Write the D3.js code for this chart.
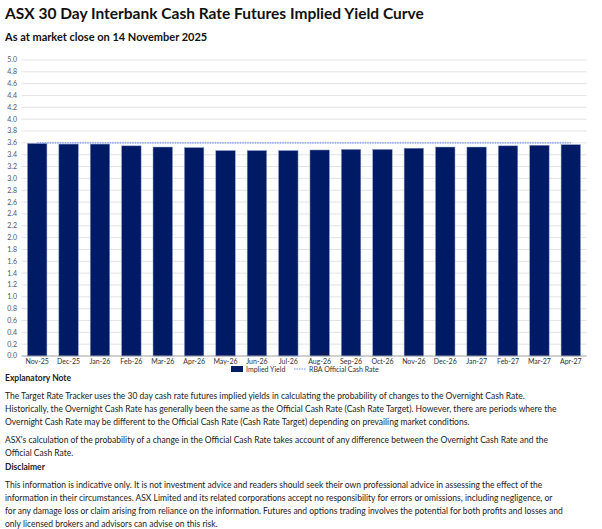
<!DOCTYPE html>
<html><head><meta charset="utf-8">
<script src="https://cdn.jsdelivr.net/npm/d3@7"></script>
<style>
body{margin:0;background:#fff;}
svg{display:block;}
</style></head>
<body>
<svg id="c" width="602" height="529"></svg>
<script>
const months = ["Nov-25","Dec-25","Jan-26","Feb-26","Mar-26","Apr-26","May-26","Jun-26","Jul-26","Aug-26","Sep-26","Oct-26","Nov-26","Dec-26","Jan-27","Feb-27","Mar-27","Apr-27"];
const impliedYield = [3.59,3.58,3.58,3.55,3.53,3.52,3.47,3.47,3.47,3.48,3.49,3.49,3.51,3.53,3.53,3.55,3.56,3.57];
const rbaCashRate = [3.60,3.60,3.60,3.60,3.60,3.60,3.60,3.60,3.60,3.60,3.60,3.60,3.60,3.60,3.60,3.60,3.60,3.60];
const yTicks = d3.range(0, 5.01, 0.2).map(v => +v.toFixed(1));
const titleText = "ASX 30 Day Interbank Cash Rate Futures Implied Yield Curve";
const subtitleText = "As at market close on 14 November 2025";
const seriesNames = ["Implied Yield", "RBA Official Cash Rate"];
const noteHeading = "Explanatory Note";
const noteLines = [
 "The Target Rate Tracker uses the 30 day cash rate futures implied yields in calculating the probability of changes to the Overnight Cash Rate.",
 "Historically, the Overnight Cash Rate has generally been the same as the Official Cash Rate (Cash Rate Target). However, there are periods where the",
 "Overnight Cash Rate may be different to the Official Cash Rate (Cash Rate Target) depending on prevailing market conditions."
];
const noteLines2 = [
 "ASX's calculation of the probability of a change in the Official Cash Rate takes account of any difference between the Overnight Cash Rate and the",
 "Official Cash Rate."
];
const disclaimerHeading = "Disclaimer";
const disclaimerLines = [
 "This information is indicative only. It is not investment advice and readers should seek their own professional advice in assessing the effect of the",
 "information in their circumstances. ASX Limited and its related corporations accept no responsibility for errors or omissions, including negligence, or",
 "for any damage loss or claim arising from reliance on the information. Futures and options trading involves the potential for both profits and losses and",
 "only licensed brokers and advisors can advise on this risk."
];

const svg = d3.select("#c");
const FONT = "Lato, 'Open Sans', sans-serif";
const navy = "#001a66";

svg.append("text").attr("x",5).attr("y",19).attr("font-family",FONT).attr("font-weight","bold")
  .attr("font-size",15.5).attr("fill","#111").text(titleText);
svg.append("text").attr("x",5).attr("y",41).attr("font-family",FONT).attr("font-weight","bold")
  .attr("font-size",11).attr("fill","#111").text(subtitleText);

const pLeft = 21.5, pRight = 586.5, pTop = 60, pBottom = 356;
const x = d3.scaleBand().domain(months).range([pLeft, pRight]).paddingInner(0.38).paddingOuter(0.19);
const y = d3.scaleLinear().domain([0,5]).range([pBottom, pTop]);

const g = svg.append("g");
g.append("g").selectAll("line").data(yTicks.filter(v=>v>0)).join("line")
  .attr("x1",pLeft).attr("x2",pRight).attr("y1",d=>y(d)).attr("y2",d=>y(d))
  .attr("stroke","#dcdcdc").attr("stroke-width",0.8);
g.append("g").selectAll("text").data(yTicks).join("text")
  .attr("x",17).attr("y",d=>y(d)).attr("dy","0.35em").attr("text-anchor","end")
  .attr("font-family",FONT).attr("font-size",7).attr("fill","#555").text(d=>d.toFixed(1));
g.append("g").selectAll("rect").data(impliedYield).join("rect")
  .attr("x",(d,i)=>x(months[i])).attr("width",x.bandwidth())
  .attr("y",d=>y(d)).attr("height",d=>y(0)-y(d))
  .attr("fill",navy).attr("stroke","#8a9cc8").attr("stroke-width",0.5);
g.append("line").attr("x1",pLeft).attr("x2",pRight).attr("y1",y(0)).attr("y2",y(0))
  .attr("stroke","#888").attr("stroke-width",0.8);
const line = d3.line().x((d,i)=>x(months[i])+x.bandwidth()/2).y(d=>y(d));
g.append("path").datum(rbaCashRate).attr("d",line).attr("fill","none")
  .attr("stroke","#6f8ff0").attr("stroke-width",1.2).attr("stroke-dasharray","1.5,1");
g.append("g").selectAll("text").data(months).join("text")
  .attr("x",d=>x(d)+x.bandwidth()/2).attr("y",363.5).attr("text-anchor","middle")
  .attr("font-family",FONT).attr("font-size",7).attr("fill","#333").text(d=>d);

const lg = svg.append("g");
lg.append("rect").attr("x",231).attr("y",366).attr("width",12).attr("height",6).attr("fill",navy);
lg.append("text").attr("x",246).attr("y",371.8).attr("font-family",FONT).attr("font-size",7).attr("fill","#333").text(seriesNames[0]);
lg.append("line").attr("x1",294).attr("x2",306).attr("y1",369).attr("y2",369)
  .attr("stroke","#6f8ff0").attr("stroke-width",1.2).attr("stroke-dasharray","1.5,1");
lg.append("text").attr("x",309).attr("y",371.8).attr("font-family",FONT).attr("font-size",7).attr("fill","#333").text(seriesNames[1]);

const tg = svg.append("g").attr("font-family",FONT).attr("fill","#222");
tg.append("text").attr("x",5).attr("y",381).attr("font-weight","bold").attr("font-size",8.5).text(noteHeading);
noteLines.forEach((t,i)=>tg.append("text").attr("x",5).attr("y",399+i*13).attr("font-size",8.5).text(t));
noteLines2.forEach((t,i)=>tg.append("text").attr("x",5).attr("y",443+i*12.5).attr("font-size",8.5).text(t));
tg.append("text").attr("x",5).attr("y",470).attr("font-weight","bold").attr("font-size",8.5).text(disclaimerHeading);
disclaimerLines.forEach((t,i)=>tg.append("text").attr("x",5).attr("y",488+i*13).attr("font-size",8.5).text(t));
</script>
</body></html>
